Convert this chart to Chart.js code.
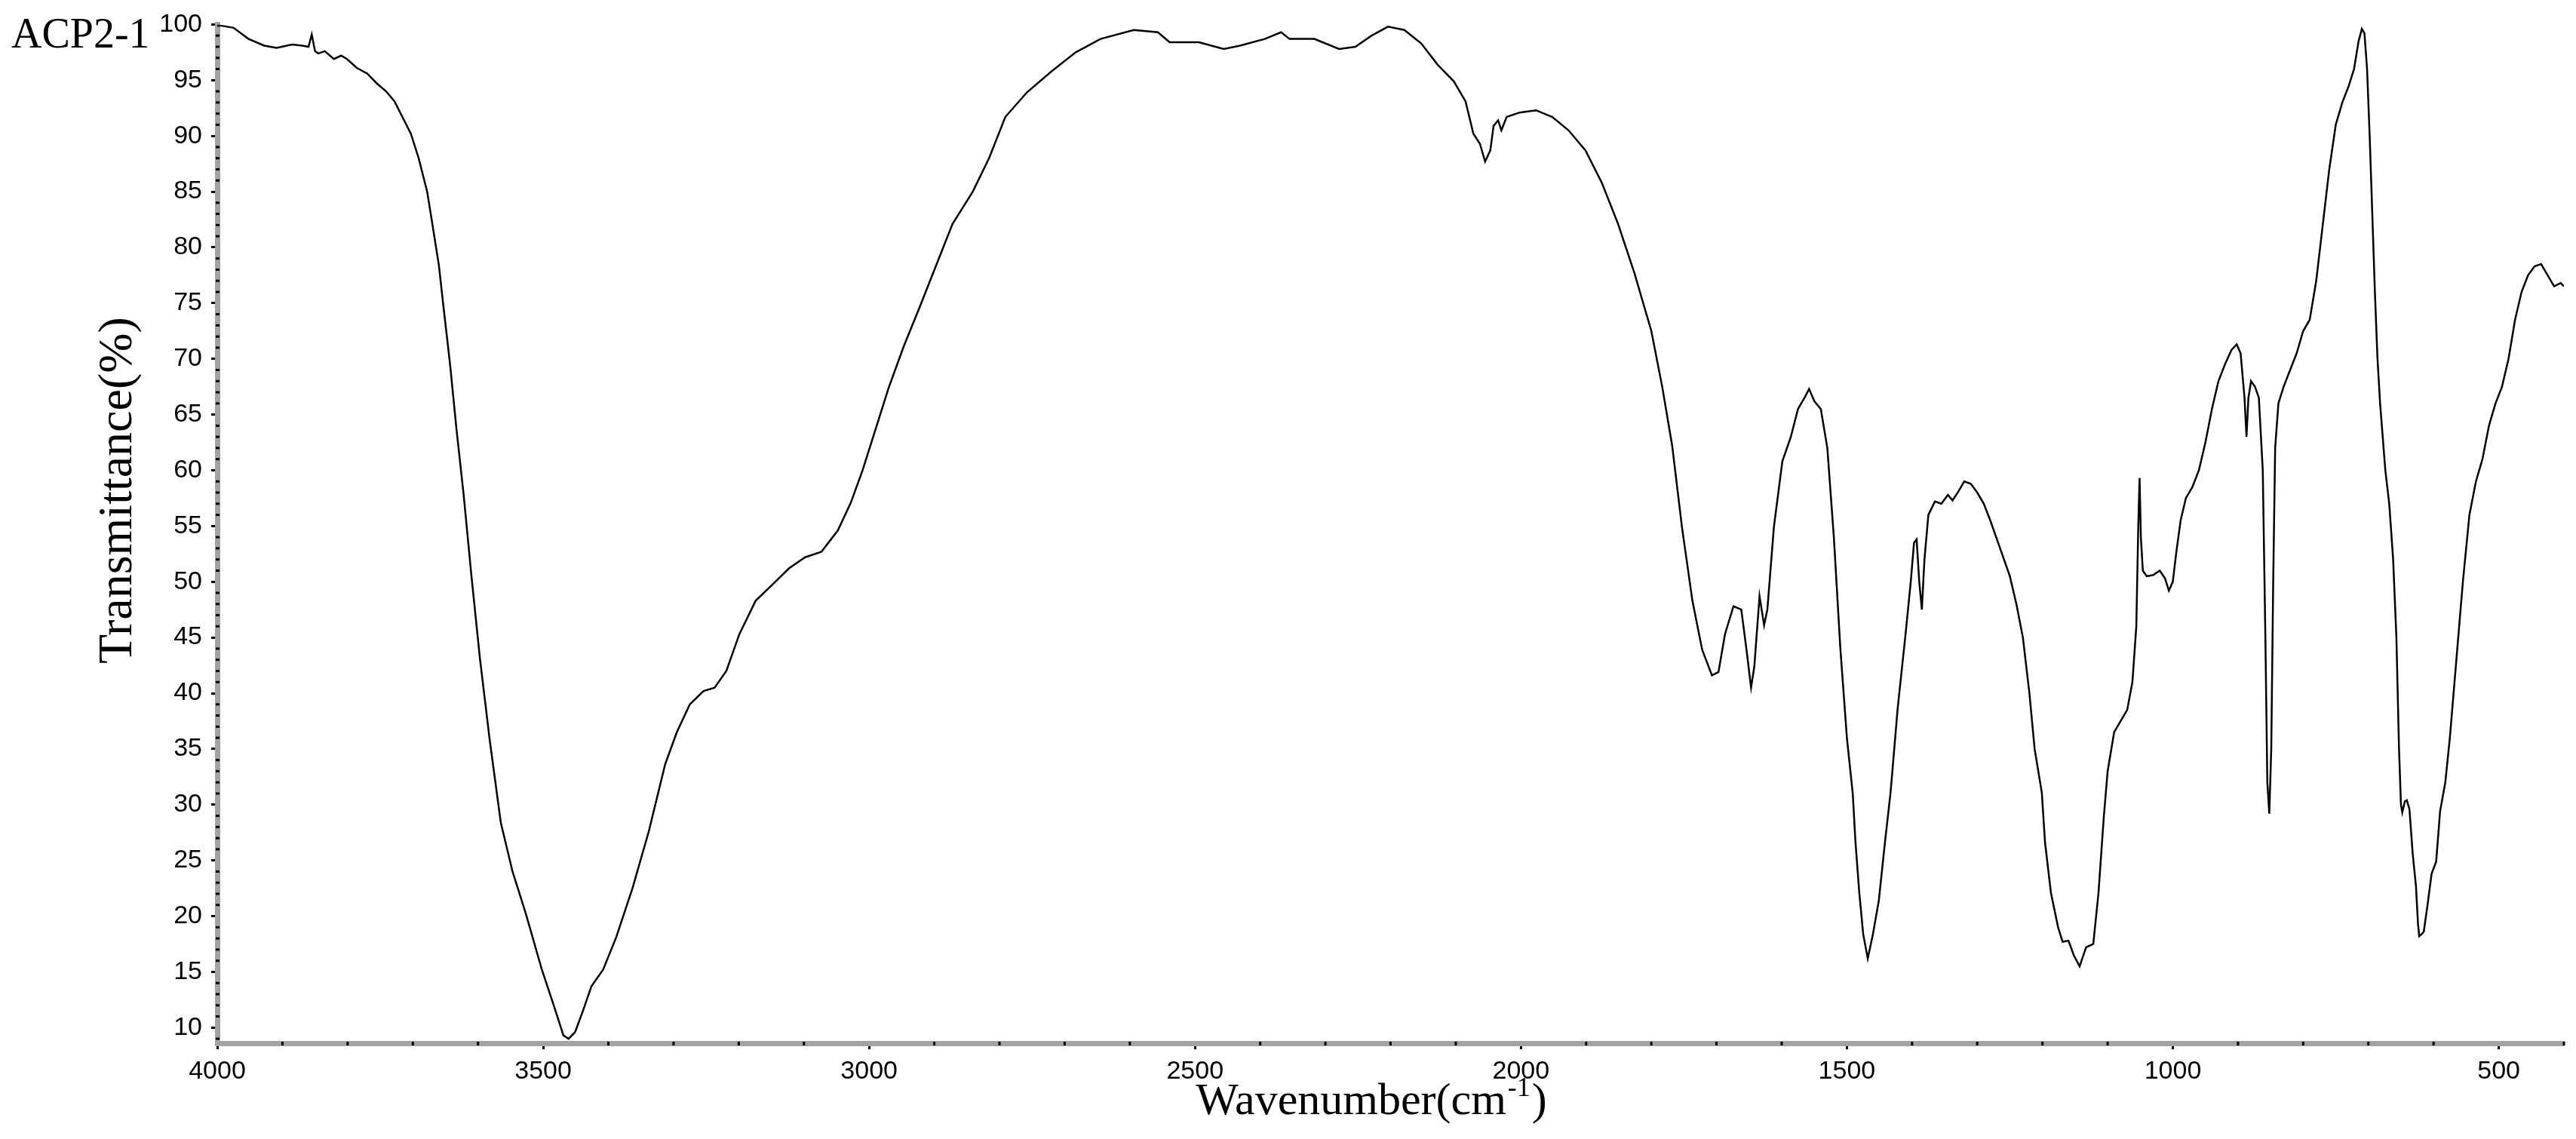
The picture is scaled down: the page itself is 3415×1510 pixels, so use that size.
<!DOCTYPE html>
<html>
<head>
<meta charset="utf-8">
<title>ACP2-1 FTIR</title>
<script src="https://cdn.jsdelivr.net/npm/chart.js@4.4.1/dist/chart.umd.min.js"></script>
<style>
  html, body { margin: 0; padding: 0; background: #fff; }
  #wrap { width: 3415px; height: 1510px; }
</style>
</head>
<body>
<div id="wrap"><canvas id="ftir" width="3415" height="1510"></canvas></div>
<script>
// spectrum, high wavenumber first
const wavenumber = [
  4000, 3995, 3975, 3952, 3928, 3909, 3885, 3870, 3860, 3855, 3850, 3845, 3835, 3821, 3810, 3801,
  3786, 3770, 3755, 3741, 3728, 3716, 3703, 3691, 3678, 3670, 3660, 3653, 3643, 3633, 3622, 3610,
  3597, 3582, 3565, 3547, 3527, 3502, 3481, 3469, 3461, 3451, 3439, 3426, 3408, 3388, 3363, 3338,
  3313, 3295, 3275, 3254, 3237, 3219, 3199, 3174, 3149, 3123, 3098, 3073, 3048, 3028, 3010, 2990,
  2970, 2947, 2922, 2897, 2872, 2841, 2816, 2791, 2758, 2720, 2683, 2645, 2594, 2557, 2539, 2494,
  2456, 2431, 2393, 2368, 2355, 2317, 2279, 2254, 2229, 2204, 2179, 2153, 2128, 2103, 2085, 2073,
  2063, 2055, 2047, 2042, 2035, 2030, 2022, 2002, 1977, 1952, 1927, 1901, 1876, 1851, 1826, 1800,
  1783, 1768, 1753, 1737, 1722, 1707, 1697, 1687, 1674, 1662, 1654, 1647, 1642, 1634, 1627, 1622,
  1612, 1599, 1586, 1575, 1565, 1558, 1550, 1540, 1530, 1520, 1510, 1500, 1491, 1487, 1481, 1475,
  1468, 1460, 1451, 1442, 1433, 1422, 1410, 1402, 1397, 1393, 1389, 1385, 1381, 1375, 1365, 1355,
  1345, 1338, 1330, 1320, 1310, 1300, 1290, 1280, 1265, 1250, 1240, 1230, 1220, 1212, 1201, 1196,
  1187, 1176, 1169, 1160, 1152, 1143, 1133, 1122, 1114, 1106, 1100, 1090, 1080, 1070, 1062, 1056,
  1053, 1051, 1049, 1046, 1040, 1030, 1020, 1012, 1006, 1000, 995, 988, 980, 970, 960, 950,
  940, 930, 920, 910, 902, 896, 890, 887, 884, 880, 874, 868, 862, 858, 855, 852,
  849, 846, 843, 838, 830, 820, 810, 800, 790, 780, 770, 760, 750, 740, 730, 722,
  715, 710, 706, 702, 698, 694, 690, 686, 682, 678, 674, 668, 662, 657, 653, 650,
  648, 644, 641, 637, 632, 627, 624, 622, 618, 615, 609, 603, 596, 590, 582, 575,
  565, 555, 545, 535, 525, 515, 505, 495, 485, 475, 465, 455, 445, 435, 425, 415,
  405, 400
];
const transmittance = [
  99.9, 99.9, 99.7, 98.7, 98.1, 97.9, 98.2, 98.1, 98.0, 99.1, 97.6, 97.4, 97.6, 96.9, 97.2, 96.9,
  96.1, 95.6, 94.7, 94.0, 93.1, 91.7, 90.2, 88.0, 85.0, 82.1, 78.4, 74.7, 69.6, 63.7, 57.8, 50.5,
  43.1, 35.8, 28.4, 24.0, 20.3, 15.2, 11.5, 9.3, 9.0, 9.6, 11.5, 13.7, 15.2, 18.1, 22.5, 27.6,
  33.6, 36.5, 39.0, 40.2, 40.5, 42.0, 45.3, 48.3, 49.7, 51.2, 52.2, 52.7, 54.6, 57.1, 60.0, 63.7,
  67.4, 71.1, 74.7, 78.4, 82.1, 85.0, 88.0, 91.7, 93.9, 95.8, 97.5, 98.7, 99.5, 99.3, 98.4, 98.4,
  97.8, 98.1, 98.7, 99.3, 98.7, 98.7, 97.8, 98.0, 99.0, 99.8, 99.5, 98.3, 96.4, 94.9, 93.1, 90.2,
  89.3, 87.7, 88.7, 90.9, 91.4, 90.5, 91.7, 92.1, 92.3, 91.7, 90.5, 88.7, 85.8, 82.1, 77.7, 72.5,
  67.4, 62.2, 54.9, 48.3, 43.9, 41.6, 41.9, 45.3, 47.8, 47.5, 43.9, 40.5, 42.4, 48.7, 46.1, 47.5,
  54.9, 60.8, 63.0, 65.5, 66.5, 67.3, 66.2, 65.5, 62.0, 54.0, 44.0, 36.0, 31.0, 26.8, 22.1, 18.4,
  16.2, 18.4, 21.4, 26.4, 31.1, 38.7, 45.3, 50.0, 53.5, 53.8, 50.0, 47.5, 52.0, 56.0, 57.2, 57.0,
  57.8, 57.3, 58.0, 59.0, 58.8, 58.0, 57.0, 55.5, 53.0, 50.5, 48.0, 45.0, 40.0, 35.0, 31.1, 26.6,
  22.1, 19.0, 17.7, 17.8, 16.5, 15.5, 17.2, 17.5, 22.1, 28.8, 33.0, 36.5, 37.5, 38.5, 41.0, 46.0,
  55.0, 59.3, 54.0, 51.0, 50.5, 50.6, 51.0, 50.3, 49.2, 50.0, 52.5, 55.5, 57.5, 58.5, 60.0, 62.5,
  65.5, 68.0, 69.5, 70.8, 71.3, 70.5, 66.5, 63.0, 66.5, 68.0, 67.5, 66.5, 60.0, 45.0, 32.0, 29.2,
  35.0, 50.0, 62.0, 66.0, 67.5, 69.0, 70.5, 72.5, 73.5, 77.0, 82.0, 87.0, 91.0, 93.0, 94.5, 96.0,
  98.5, 99.6, 99.2, 96.0, 90.0, 83.0, 76.0, 70.0, 66.0, 63.0, 60.0, 57.0, 52.0, 45.0, 35.0, 30.0,
  29.3, 30.3, 30.4, 29.6, 25.6, 22.7, 19.4, 18.2, 18.4, 18.6, 21.1, 23.8, 24.9, 29.4, 32.0, 36.0,
  43.0, 50.0, 56.0, 59.0, 61.0, 64.0, 66.0, 67.5, 70.0, 73.5, 76.0, 77.5, 78.3, 78.5, 77.5, 76.5,
  76.8, 76.5
];
const xTickLabels = [4000, 3500, 3000, 2500, 2000, 1500, 1000, 500];
const yTickLabels = [10, 15, 20, 25, 30, 35, 40, 45, 50, 55, 60, 65, 70, 75, 80, 85, 90, 95, 100];
const sampleName = 'ACP2-1';

const tickFont = { family: "'Liberation Sans Narrow', 'Liberation Sans', sans-serif", size: 34 };
const serif = "'Liberation Serif', 'Times New Roman', serif";
const axisGrey = '#a3a3a3';

// every 100 cm-1 on x, every 1 % on y; the labelled ones get a black tick
function stepTicks(from, to, step) {
  const out = [];
  for (let v = from; v >= to; v -= step) out.push({ value: v });
  return out;
}

const isMajor = (scale, v) =>
  scale.axis === 'x' ? xTickLabels.includes(v) : yTickLabels.includes(v);

// minor ticks are little dots sitting on the axis line, plus the three titles
const decorations = {
  id: 'decorations',
  afterDraw(chart) {
    const ctx = chart.ctx;
    const xs = chart.scales.x, ys = chart.scales.y;
    const area = chart.chartArea;
    ctx.save();
    ctx.fillStyle = '#000';
    xs.ticks.forEach(t => {
      if (isMajor(xs, t.value)) return;
      const px = xs.getPixelForValue(t.value);
      ctx.fillRect(px - 1.5, area.bottom - 2, 3, 5);
    });
    ys.ticks.forEach(t => {
      if (isMajor(ys, t.value)) return;
      const py = ys.getPixelForValue(t.value);
      ctx.fillRect(area.left - 2, py - 1.5, 5, 3);
    });

    ctx.fillStyle = '#000';
    ctx.font = '56px ' + serif;
    ctx.textAlign = 'left';
    ctx.textBaseline = 'alphabetic';
    ctx.fillText(sampleName, 15, 63);

    ctx.save();
    ctx.translate(157, 650);
    ctx.rotate(-Math.PI / 2);
    ctx.font = '64px ' + serif;
    ctx.textAlign = 'center';
    ctx.textBaseline = 'middle';
    ctx.fillText('Transmittance(%)', 0, 0);
    ctx.restore();

    const main = 'Wavenumber(cm', sup = '-1', close = ')';
    ctx.font = '60px ' + serif;
    const wMain = ctx.measureText(main).width;
    const wClose = ctx.measureText(close).width;
    ctx.font = '36px ' + serif;
    const wSup = ctx.measureText(sup).width;
    let x0 = 1816 - (wMain + wSup + wClose) / 2;
    const base = 1477;
    ctx.textAlign = 'left';
    ctx.font = '60px ' + serif;
    ctx.fillText(main, x0, base);
    ctx.font = '36px ' + serif;
    ctx.fillText(sup, x0 + wMain + 2, base - 24);
    ctx.font = '60px ' + serif;
    ctx.fillText(close, x0 + wMain + wSup + 4, base);
    ctx.restore();
  }
};

new Chart(document.getElementById('ftir'), {
  type: 'line',
  data: {
    datasets: [{
      data: wavenumber.map((w, i) => ({ x: w, y: transmittance[i] })),
      borderColor: '#000',
      borderWidth: 2.5,
      pointRadius: 0,
      tension: 0,
      fill: false
    }]
  },
  options: {
    responsive: false,
    animation: false,
    devicePixelRatio: 1,
    layout: { padding: { top: 29, right: 16, left: 0, bottom: 0 } },
    plugins: { legend: { display: false }, tooltip: { enabled: false } },
    scales: {
      x: {
        type: 'linear',
        reverse: true,
        min: 400,
        max: 4000,
        afterBuildTicks: s => { s.ticks = stepTicks(4000, 400, 100); },
        afterFit: s => { s.height = 127; },
        ticks: {
          autoSkip: false,
          maxRotation: 0,
          padding: 9,
          color: '#000',
          font: tickFont,
          callback: v => xTickLabels.includes(v) ? String(v) : ''
        },
        grid: {
          drawOnChartArea: false,
          tickLength: 8,
          tickWidth: 3,
          tickColor: c => (c.tick && xTickLabels.includes(c.tick.value)) ? '#000' : 'rgba(0,0,0,0)'
        },
        border: { color: axisGrey, width: 7 }
      },
      y: {
        min: 8.6,
        max: 100,
        afterBuildTicks: s => { s.ticks = stepTicks(100, 9, 1); },
        afterFit: s => { s.width = 288; },
        ticks: {
          autoSkip: false,
          padding: 12,
          color: '#000',
          font: tickFont,
          callback: v => yTickLabels.includes(v) ? String(v) : ''
        },
        grid: {
          drawOnChartArea: false,
          tickLength: 8,
          tickWidth: 3,
          tickColor: c => (c.tick && yTickLabels.includes(c.tick.value)) ? '#000' : 'rgba(0,0,0,0)'
        },
        border: { color: axisGrey, width: 7 }
      }
    }
  },
  plugins: [decorations]
});
</script>
</body>
</html>
